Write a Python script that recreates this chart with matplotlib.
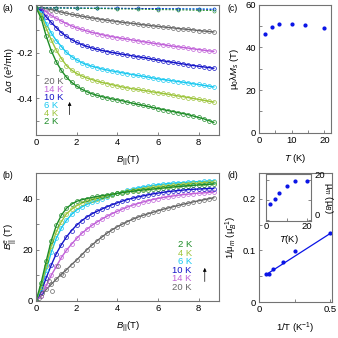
import numpy as np
import matplotlib
matplotlib.use("Agg")
import matplotlib.pyplot as plt
from matplotlib.ticker import MultipleLocator

plt.rcParams['font.family'] = ['Liberation Sans', 'DejaVu Sans']
plt.rcParams['mathtext.fontset'] = 'custom'
plt.rcParams['mathtext.rm'] = 'Liberation Sans'
plt.rcParams['mathtext.it'] = 'Liberation Sans:italic'
plt.rcParams['font.size'] = 6.8

# ---- data ----
temps = [2, 4, 6, 10, 14, 20]
colors = ['#1e8c28', '#9cc43a', '#18c8f0', '#1414c8', '#c060d8', '#666666']

b_field = np.arange(0, 9, 0.25)

# (a) magnetoconductance, e^2/(pi h)
dsig_2K = [0, -0.045, -0.125, -0.19, -0.240, -0.278, -0.308, -0.330, -0.347, -0.361, -0.372, -0.381,
           -0.388, -0.394, -0.399, -0.404, -0.408, -0.412, -0.418, -0.423, -0.428, -0.432, -0.437, -0.442,
           -0.447, -0.451, -0.456, -0.460, -0.465, -0.469, -0.474, -0.480, -0.486, -0.492, -0.500, -0.508]
dsig_4K = [0, -0.03, -0.09, -0.142, -0.188, -0.225, -0.256, -0.276, -0.291, -0.302, -0.311, -0.318,
           -0.325, -0.331, -0.336, -0.341, -0.346, -0.351, -0.355, -0.359, -0.362, -0.366, -0.369, -0.373,
           -0.376, -0.380, -0.383, -0.387, -0.391, -0.394, -0.398, -0.402, -0.406, -0.410, -0.414, -0.418]
dsig_6K = [0, -0.022, -0.07, -0.112, -0.145, -0.172, -0.198, -0.216, -0.231, -0.243, -0.252, -0.259,
           -0.265, -0.271, -0.276, -0.280, -0.284, -0.288, -0.292, -0.296, -0.300, -0.303, -0.307, -0.311,
           -0.315, -0.318, -0.321, -0.324, -0.327, -0.330, -0.333, -0.337, -0.340, -0.344, -0.347, -0.351]
dsig_10K = [0, -0.012, -0.04, -0.065, -0.088, -0.110, -0.127, -0.141, -0.153, -0.163, -0.171, -0.178,
            -0.184, -0.189, -0.194, -0.198, -0.202, -0.206, -0.209, -0.213, -0.217, -0.220, -0.224, -0.228,
            -0.232, -0.235, -0.239, -0.242, -0.246, -0.249, -0.253, -0.256, -0.259, -0.262, -0.265, -0.268]
dsig_14K = [0, -0.004, -0.018, -0.034, -0.047, -0.059, -0.070, -0.080, -0.089, -0.096, -0.103, -0.109,
            -0.114, -0.119, -0.124, -0.128, -0.132, -0.136, -0.139, -0.143, -0.146, -0.150, -0.153, -0.157,
            -0.160, -0.163, -0.167, -0.170, -0.173, -0.176, -0.179, -0.182, -0.185, -0.188, -0.191, -0.193]
dsig_20K = [0, -0.001, -0.004, -0.008, -0.013, -0.019, -0.024, -0.029, -0.033, -0.037, -0.041, -0.045,
            -0.048, -0.052, -0.055, -0.058, -0.061, -0.064, -0.067, -0.069, -0.072, -0.075, -0.077, -0.080,
            -0.082, -0.085, -0.087, -0.089, -0.092, -0.094, -0.096, -0.098, -0.101, -0.103, -0.105, -0.107]

# near-zero dashed traces at top of (a)
flat_b = [0, 1, 2, 3, 4, 5, 6, 7, 8, 8.75]
flat_green = [0, -0.001, -0.002, -0.003, -0.005, -0.006, -0.008, -0.009, -0.011, -0.012]
flat_blue = [0, 0.000, -0.001, -0.002, -0.002, -0.003, -0.004, -0.005, -0.006, -0.007]
flat_cyan = [0, 0.000, -0.001, -0.001, -0.002, -0.003, -0.003, -0.004, -0.004, -0.005]

# (b) effective in-plane field, T
be_2K = [0, 7, 15.5, 23.5, 29.5, 33.5, 36.2, 37.8, 38.9, 39.5, 40.0, 40.4, 40.8, 41.1, 41.4, 41.7, 42.0,
         42.3, 42.6, 42.8, 43.1, 43.3, 43.5, 43.7, 43.9, 44.1, 44.3, 44.5, 44.7, 44.8, 45.0, 45.1, 45.3,
         45.4, 45.5, 45.7]
be_4K = [0, 5.5, 13.5, 21.5, 27.0, 31.0, 34.0, 35.8, 37.2, 38.2, 38.9, 39.5, 40.0, 40.5, 41.0, 41.5, 42.0,
         42.4, 42.8, 43.2, 43.5, 43.8, 44.1, 44.4, 44.6, 44.8, 45.0, 45.2, 45.4, 45.6, 45.8, 45.9, 46.0,
         46.2, 46.3, 46.4]
be_6K = [0, 5, 12, 19, 24.5, 28.5, 31.5, 33.8, 35.5, 36.7, 37.7, 38.5, 39.2, 39.9, 40.6, 41.3, 42.0,
         42.6, 43.2, 43.7, 44.1, 44.5, 44.8, 45.1, 45.4, 45.6, 45.8, 46.0, 46.1, 46.2, 46.4, 46.5, 46.6,
         46.7, 46.8, 46.9]
be_10K = [0, 3.5, 9, 14, 18.5, 22.0, 25.0, 27.5, 29.6, 31.3, 32.8, 34.0, 35.0, 35.9, 36.8, 37.6, 38.3,
          39.0, 39.6, 40.1, 40.6, 41.0, 41.4, 41.8, 42.1, 42.4, 42.7, 42.9, 43.1, 43.3, 43.5, 43.6, 43.7,
          43.8, 43.9, 43.9]
be_14K = [0, 2, 6, 10, 13.5, 17.0, 19.8, 22.2, 24.4, 26.4, 28.0, 29.5, 30.8, 32.0, 33.1, 34.1, 35.0,
          35.9, 36.7, 37.4, 38.0, 38.6, 39.1, 39.6, 40.0, 40.4, 40.7, 41.0, 41.3, 41.5, 41.7, 41.9, 42.1,
          42.2, 42.4, 42.5]
be_20K = [0, 2, 4.5, 6.5, 8.5, 10.5, 12.2, 14.2, 16.0, 18.0, 20.0, 21.8, 23.5, 25.0, 26.5, 27.8, 29.0,
          30.0, 31.0, 31.9, 32.7, 33.4, 34.0, 34.6, 35.2, 35.8, 36.3, 36.8, 37.3, 37.8, 38.2, 38.7, 39.1,
          39.5, 39.9, 40.3]
# scattered 20 K points at low field
be_20K_extra_b = [0.62, 0.79, 1.08, 1.34, 0.15, 0.3]
be_20K_extra = [7.8, 4.0, 13.7, 10.2, 1.0, 3.0]

# (c) mu0 lambda Ms vs T
c_temp = [2, 4, 6, 10, 14, 20]
c_ms = [46.4, 49.7, 51.2, 51.2, 50.4, 48.9]

# (d) 1/mu_m vs 1/T
d_inv_t = [0.5, 0.25, 1 / 6, 0.1, 1 / 14, 0.05]
d_inv_mu = [0.134, 0.098, 0.078, 0.064, 0.054, 0.054]
fit_x = [0.05, 0.5]
fit_y = [0.053, 0.133]
# inset: mu_m vs T
ins_temp = [2, 4, 6, 10, 14, 20]
ins_mu = [7.8, 10.7, 13.5, 16.8, 19.7, 19.7]

dsig = [dsig_2K, dsig_4K, dsig_6K, dsig_10K, dsig_14K, dsig_20K]
beff = [be_2K, be_4K, be_6K, be_10K, be_14K, be_20K]

spine_col = '0.45'


def style(ax):
    for s in ax.spines.values():
        s.set_color(spine_col)
        s.set_linewidth(0.8)
    ax.tick_params(which='both', direction='in', length=2.5, width=0.6,
                   color=spine_col, labelsize=6.8, pad=2)


fig = plt.figure(figsize=(3.38, 3.38), dpi=100)

# ---- (a) ----
ax_a = fig.add_axes([0.1065, 0.6006, 0.541, 0.385])
for i in range(len(temps) - 1, -1, -1):
    ax_a.plot(b_field, dsig[i], color=colors[i], lw=1.0)
    ax_a.plot(b_field, dsig[i], 'o', ms=2.8, mfc='none', mec=colors[i], mew=0.5)
for vals, c in [(flat_cyan, colors[2]), (flat_blue, colors[3]), (flat_green, colors[0])]:
    ax_a.plot(flat_b, vals, '--', color=c, lw=0.7, dashes=(2, 1.5))
    ax_a.plot(flat_b, vals, 'o', ms=2.2, mfc='none', mec=c, mew=0.4)
ax_a.set_xlim(0, 9)
ax_a.set_ylim(-0.564, 0.013)
ax_a.xaxis.set_major_locator(MultipleLocator(2))
ax_a.yaxis.set_minor_locator(MultipleLocator(0.1))
ax_a.set_yticks([0, -0.2, -0.4])
ax_a.set_yticklabels(['0', '-0.2', '-0.4'])
ax_a.set_xlabel(r'$B_{||}$(T)', labelpad=5)
ax_a.set_ylabel('Δσ (e²/πh)', labelpad=2)
style(ax_a)
lab_order = list(range(len(temps) - 1, -1, -1))
for k, i in enumerate(lab_order):
    ax_a.text(0.044, 0.408 - k * 0.0615, f'{temps[i]} K', color=colors[i],
              transform=ax_a.transAxes, fontsize=6.8, va='center', ha='left')
ax_a.annotate('', xy=(0.184, 0.275), xytext=(0.184, 0.135), xycoords='axes fraction',
              arrowprops=dict(arrowstyle='-|>', color='black', lw=0.5, mutation_scale=5))

# ---- (b) ----
ax_b = fig.add_axes([0.1065, 0.1095, 0.541, 0.379])
for i in range(len(temps) - 1, -1, -1):
    ax_b.plot(b_field, beff[i], color=colors[i], lw=1.0)
    ax_b.plot(b_field, beff[i], 'o', ms=2.8, mfc='none', mec=colors[i], mew=0.5)
ax_b.plot(be_20K_extra_b, be_20K_extra, 'o', ms=2.8, mfc='none', mec=colors[5], mew=0.5)
ax_b.set_xlim(0, 9)
ax_b.set_ylim(0, 50)
ax_b.xaxis.set_major_locator(MultipleLocator(2))
ax_b.yaxis.set_major_locator(MultipleLocator(20))
ax_b.yaxis.set_minor_locator(MultipleLocator(10))
ax_b.set_xlabel(r'$B_{||}$(T)', labelpad=5)
ax_b.set_ylabel(r'$B^{e}_{||}$ (T)', labelpad=2)
style(ax_b)
for k, i in enumerate(range(len(temps))):
    ax_b.text(0.852, 0.4375 - k * 0.066, f'{temps[i]} K', color=colors[i],
              transform=ax_b.transAxes, fontsize=6.8, va='center', ha='right')
ax_b.annotate('', xy=(0.923, 0.28), xytext=(0.923, 0.13), xycoords='axes fraction',
              arrowprops=dict(arrowstyle='-|>', color='black', lw=0.5, mutation_scale=5))

# ---- (c) ----
ax_c = fig.add_axes([0.766, 0.607, 0.213, 0.379])
ax_c.plot(c_temp, c_ms, 'o', color='#0a14e6', ms=2.0)
ax_c.set_xlim(0, 22)
ax_c.set_ylim(0, 60)
ax_c.xaxis.set_major_locator(MultipleLocator(10))
ax_c.xaxis.set_minor_locator(MultipleLocator(5))
ax_c.yaxis.set_major_locator(MultipleLocator(20))
ax_c.yaxis.set_minor_locator(MultipleLocator(10))
ax_c.set_xlabel(r'$T$ (K)', labelpad=5)
ax_c.set_ylabel(r'μ$_0$λ$M_s$ (T)', labelpad=3)
style(ax_c)

# ---- (d) ----
ax_d = fig.add_axes([0.766, 0.1065, 0.216, 0.382])
ax_d.plot(fit_x, fit_y, color='#0a14e6', lw=0.9)
ax_d.plot(d_inv_t, d_inv_mu, 'o', color='#0a14e6', ms=2.0)
ax_d.set_xlim(0, 0.51)
ax_d.set_ylim(0, 0.25)
ax_d.set_xticks([0, 0.5])
ax_d.set_xticklabels(['0', '0.5'])
ax_d.xaxis.set_minor_locator(MultipleLocator(0.25))
ax_d.set_yticks([0, 0.1, 0.2])
ax_d.set_yticklabels(['0', '0.1', '0.2'])
ax_d.yaxis.set_minor_locator(MultipleLocator(0.05))
ax_d.set_xlabel(r'1/T (K$^{-1}$)', labelpad=5)
ax_d.set_ylabel(r'1/μ$_m$ (μ$_B^{-1}$)', labelpad=3)
style(ax_d)

ax_in = fig.add_axes([0.787, 0.346, 0.133, 0.139])
ax_in.plot(ins_temp, ins_mu, 'o', color='#0a14e6', ms=2.0)
ax_in.set_xlim(-0.2, 22)
ax_in.set_ylim(-0.5, 23)
ax_in.set_xticks([0, 20])
ax_in.xaxis.set_minor_locator(MultipleLocator(10))
ax_in.set_yticks([0, 20])
ax_in.yaxis.set_minor_locator(MultipleLocator(10))
ax_in.yaxis.tick_right()
ax_in.yaxis.set_label_position('right')
ax_in.tick_params(which='both', left=True, right=True)
ax_in.set_xlabel(r'$T$(K)', labelpad=1)
ax_in.set_ylabel(r'μ$_m$ (μ$_B$)', rotation=270, labelpad=7)
style(ax_in)
ax_in.tick_params(axis='x', pad=1)
ax_in.tick_params(axis='y', pad=2.5)
for lab in ax_in.get_yticklabels():
    lab.set_verticalalignment('bottom')

# panel letters
fig.text(0.006, 0.968, '(a)', fontsize=6.3)
fig.text(0.006, 0.472, '(b)', fontsize=6.3)
fig.text(0.672, 0.968, '(c)', fontsize=6.3)
fig.text(0.672, 0.472, '(d)', fontsize=6.3)

fig.savefig('out.png', dpi=100)
